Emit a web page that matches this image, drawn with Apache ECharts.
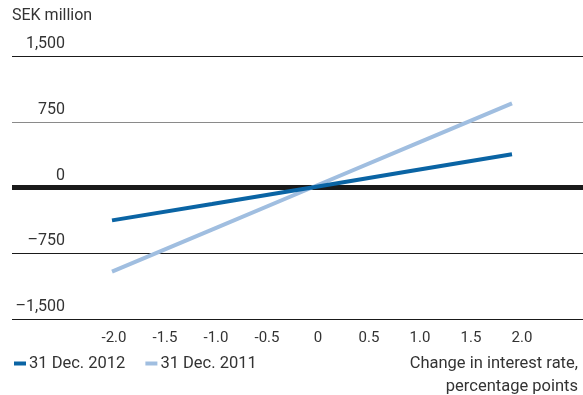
<!DOCTYPE html>
<html>
<head>
<meta charset="utf-8">
<script src="https://cdn.jsdelivr.net/npm/echarts@6/dist/echarts.min.js"></script>
<style>
html,body{margin:0;padding:0;background:#fff;}
#chart{width:583px;height:395px;}
</style>
</head>
<body>
<div id="chart"></div>
<script>
var xValues = [-2, -1, 0, 1, 2];
var series2012 = [-375, -188, 0, 190, 380];
var series2011 = [-960, -480, 0, 480, 960];
var xTickLabels = ['-2.0', '-1.5', '-1.0', '-0.5', '0', '0.5', '1.0', '1.5', '2.0'];
var yTickLabels = {'-1500': '\u20131,500', '-750': '\u2013750', '0': '0', '750': '750', '1500': '1,500'};
var seriesNames = ['31 Dec. 2012', '31 Dec. 2011'];
var colors = ['#0a64a4', '#a0bee0'];

var FONT = 'Roboto';
var TXT = '#333333';

function pairs(xs, ys) { return xs.map(function (x, i) { return [x, ys[i]]; }); }

var chart = echarts.init(document.getElementById('chart'));
chart.setOption({
  animation: false,
  textStyle: { fontFamily: FONT },
  title: [
    { text: 'SEK million', left: 12, top: 8, padding: 0, textStyle: { fontFamily: FONT, fontSize: 16, fontWeight: 'normal', color: TXT } },
    { text: 'Change in interest rate,', right: 5, top: 355, padding: 0, textStyle: { fontFamily: FONT, fontSize: 16.5, fontWeight: 'normal', color: TXT } },
    { text: 'percentage points', right: 5, top: 378, padding: 0, textStyle: { fontFamily: FONT, fontSize: 16.5, fontWeight: 'normal', color: TXT } }
  ],
  legend: {
    left: 14, top: 355, padding: 0, itemWidth: 12, itemHeight: 4, itemGap: 20,
    textStyle: { fontFamily: FONT, fontSize: 16.5, color: TXT, padding: [0, 0, 0, -2] },
    data: [
      { name: seriesNames[0], icon: 'rect', itemStyle: { color: colors[0] } },
      { name: seriesNames[1], icon: 'rect', itemStyle: { color: colors[1] } }
    ]
  },
  grid: { left: 12, right: 0, top: 56, bottom: 76, containLabel: false },
  xAxis: [
    {
      type: 'value', min: -3, max: -3 + 571 / 102, interval: 0.5,
      axisLine: { show: false }, axisTick: { show: false }, splitLine: { show: false },
      axisLabel: {
        fontFamily: FONT, fontSize: 15, color: TXT, margin: 12, showMaxLabel: false, showMinLabel: false,
        formatter: function (v) {
          var idx = Math.round((v + 2) / 0.5);
          if (idx < 0 || idx >= xTickLabels.length) return '';
          return xTickLabels[idx];
        }
      }
    },
    {
      type: 'value', min: -3, max: -3 + 5.71, show: false
    }
  ],
  yAxis: {
    type: 'value', min: -1500, max: 1500, interval: 750,
    axisLine: { show: false }, axisTick: { show: false },
    axisLabel: {
      fontFamily: FONT, fontSize: 16, color: TXT, align: 'right', verticalAlign: 'bottom',
      margin: -53, padding: [0, 0, 4, 0],
      formatter: function (v) { return yTickLabels[String(v)]; }
    },
    splitLine: { lineStyle: { color: ['#1a1a1a', '#1a1a1a', '#1a1a1a', '#8a8a8a', '#1a1a1a'], width: 1.2 } }
  },
  series: [
    {
      name: seriesNames[0], type: 'line', xAxisIndex: 1, data: pairs(xValues, series2012),
      showSymbol: false, symbol: 'none', lineStyle: { color: colors[0], width: 4 }, itemStyle: { color: colors[0] }, z: 3,
      markLine: {
        silent: true, symbol: 'none', label: { show: false },
        lineStyle: { color: '#1a1a1a', width: 5, type: 'solid' },
        data: [{ yAxis: 0 }], z: 1
      }
    },
    {
      name: seriesNames[1], type: 'line', xAxisIndex: 1, data: pairs(xValues, series2011),
      showSymbol: false, symbol: 'none', lineStyle: { color: colors[1], width: 4 }, itemStyle: { color: colors[1] }, z: 2
    }
  ]
});
</script>
</body>
</html>
